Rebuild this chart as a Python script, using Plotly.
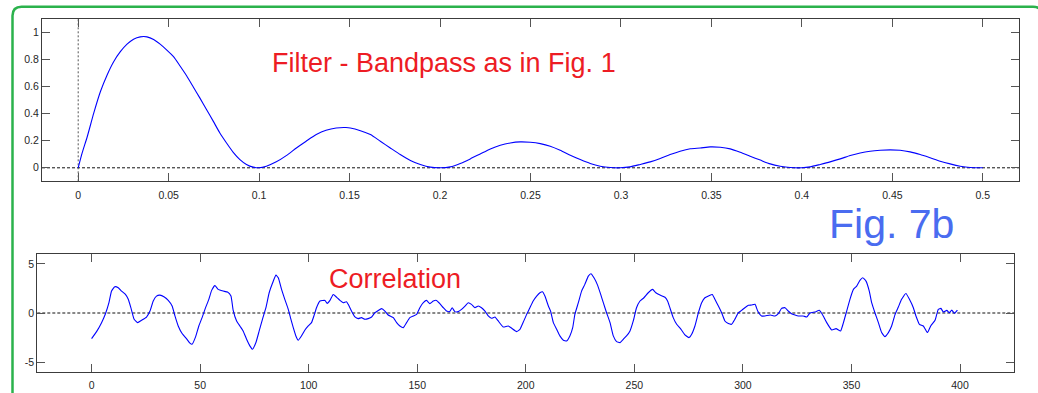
import plotly.graph_objects as go

W, H = 1038, 393


def px(x):
    return x / W


def py(y):
    return 1 - y / H


# ---------------- data ----------------
freq = [0, 0.0022, 0.005, 0.0086, 0.0123, 0.016, 0.0196, 0.0233, 0.027, 0.0306,
        0.0343, 0.038, 0.0417, 0.0453, 0.049, 0.0527, 0.0563, 0.06, 0.0637, 0.0673,
        0.071, 0.0747, 0.0783, 0.082, 0.0857, 0.0894, 0.093, 0.0967, 0.1, 0.104,
        0.1095, 0.115, 0.1206, 0.126, 0.1316, 0.137, 0.1426, 0.148, 0.1504, 0.156,
        0.1615, 0.167, 0.1725, 0.178, 0.1836, 0.1891, 0.1946, 0.2, 0.2057, 0.2112,
        0.2167, 0.2222, 0.2278, 0.2333, 0.2388, 0.2443, 0.2499, 0.2554, 0.2609, 0.2664,
        0.272, 0.2775, 0.283, 0.2885, 0.2941, 0.2996, 0.305, 0.3106, 0.3162, 0.3217,
        0.3272, 0.3327, 0.3383, 0.3438, 0.3493, 0.3549, 0.3604, 0.3659, 0.3714, 0.377,
        0.3825, 0.388, 0.3935, 0.4, 0.4046, 0.4101, 0.4156, 0.4212, 0.4267, 0.4322,
        0.4377, 0.4433, 0.4488, 0.4543, 0.4598, 0.4654, 0.4709, 0.4764, 0.4819, 0.4875,
        0.493, 0.5]
filt = [0, 0.11, 0.23, 0.405, 0.565, 0.688, 0.786, 0.86, 0.916, 0.953,
        0.97, 0.97, 0.951, 0.916, 0.872, 0.823, 0.754, 0.68, 0.597, 0.516,
        0.43, 0.344, 0.258, 0.184, 0.115, 0.061, 0.025, 0.005, 0, 0.012,
        0.044, 0.09, 0.147, 0.197, 0.246, 0.278, 0.295, 0.298, 0.295, 0.275,
        0.246, 0.197, 0.147, 0.098, 0.054, 0.025, 0.005, 0, 0.007, 0.032,
        0.066, 0.103, 0.14, 0.167, 0.184, 0.192, 0.189, 0.179, 0.16, 0.13,
        0.093, 0.061, 0.032, 0.012, 0.002, 0, 0.007, 0.025, 0.044, 0.069,
        0.098, 0.123, 0.141, 0.147, 0.155, 0.152, 0.14, 0.115, 0.086, 0.057,
        0.029, 0.012, 0.002, 0, 0.007, 0.025, 0.044, 0.066, 0.091, 0.11,
        0.123, 0.13, 0.133, 0.13, 0.118, 0.098, 0.074, 0.049, 0.029, 0.012,
        0.002, 0]

lags = [0, 2.3, 4.6, 6.4, 8, 9.2, 10.7, 12.3, 13.8, 15.6, 16.9, 18.1, 19.6, 21.2, 23,
        25.3, 26.9, 28.4, 29.9, 31.5, 33.5, 35.3, 37.1, 38.4, 39.9, 41.7, 43.7, 45.3,
        46.3, 47.9, 49.4, 50.9, 52.5, 54, 55.3, 56.8, 58.3, 60.6, 62.6, 64.2, 65.2,
        66.8, 68.3, 69.8, 71.4, 72.9, 74.1, 75.7, 77.2, 78.7, 80.3, 81.8, 83.4, 84.9,
        86, 87.5, 89, 90.6, 91.6, 92.9, 94.1, 95.2, 96.7, 98.2, 99.8, 101.3, 102.4,
        103.6, 105.2, 107.5, 108.5, 109.8, 111.3, 112.8, 114.4, 115.9, 117.4, 118.2,
        119.7, 121.3, 122.8, 124.3, 125.9, 127.4, 129, 130.5, 133.6, 135.1, 136.6,
        139, 140.5, 142, 143.6, 145.1, 146.6, 148.2, 149.7, 151.2, 152.8, 154.3,
        155.8, 157.4, 158.9, 160.4, 162, 163.5, 165, 166.1, 167.3, 168.9, 170.4, 172,
        173.5, 175, 176.6, 178.1, 179.6, 181.2, 182.7, 184.2, 185.8, 187.3, 189.6,
        191.9, 193.5, 195.8, 197.3, 198.8, 200.4, 201.9, 203.4, 205, 206.5, 207.7,
        208.8, 210.4, 211.4, 212.7, 214.2, 215.7, 217.3, 218.8, 220.3, 221.6, 222.6,
        224.2, 225.7, 227.2, 228.8, 230, 231.4, 232.9, 234.5, 235.7, 237.2, 238.8,
        240.3, 241.8, 243.4, 244.9, 246.4, 248, 249.5, 251, 252.6, 254.4, 256.4,
        258.4, 259.9, 261.8, 264.1, 265.3, 266.2, 267.9, 269.5, 271.5, 273.3, 275.2,
        276.4, 277.9, 279.5, 281, 282.5, 284.1, 285.9, 287.1, 288.7, 290.2, 291.7,
        293.3, 294.8, 296.3, 297.9, 299.4, 300.9, 302.5, 304, 305.6, 306.8, 308.6,
        310.2, 312.5, 314.8, 316.3, 317.8, 319.4, 320.9, 322.4, 324, 325.5, 327.8,
        329.4, 330.9, 333.2, 335.2, 337, 338.6, 340.9, 342.9, 345, 346.3, 347.8,
        349.3, 350.9, 352.4, 353.9, 355.2, 356.7, 358.2, 359.3, 360.8, 362.4, 363.9,
        365.4, 367, 368.5, 370.1, 371.6, 373.1, 375.1, 376.7, 378.5, 379.7, 381.3,
        383.1, 385, 386.5, 388.5, 390, 391.2, 392.3, 393.9, 395.1, 396.2, 397.4, 398.8]
corr = [-2.6, -1.89, -0.98, -0.07, 1.05, 2.23, 2.67, 2.57, 2.23, 1.89, 1.39, 0.54, -0.64,
        -0.98, -0.74, -0.41, 0.2, 1.22, 1.72, 1.82, 1.62, 1.28, 0.71, -0.3, -1.32, -2.09,
        -2.6, -3.07, -3.18, -2.43, -1.32, -0.47, 0.54, 1.39, 2.3, 2.8, 2.4, 2.23, 2.13,
        1.72, 0.3, -0.81, -1.32, -1.82, -2.67, -3.34, -3.68, -3.0, -1.82, -0.64, 0.54,
        2.06, 3.07, 3.85, 3.58, 2.4, 1.39, 0.37, -0.47, -1.49, -2.33, -2.77, -2.33,
        -1.76, -1.32, -0.98, -0.3, 0.54, 1.22, 1.28, 0.98, 1.28, 1.89, 1.62, 1.28, 1.05,
        1.15, 0.88, 0.2, -0.4, -0.57, -0.47, -0.64, -0.57, -0.41, 0.03, 0.44, 0.2, -0.2,
        -0.47, -0.98, -1.32, -1.49, -0.98, -0.47, -0.3, -0.14, 0.54, 1.05, 1.28, 0.95,
        1.22, 1.28, 0.95, 0.54, 0.2, 0.14, 0.54, 0.14, 0.14, 0.37, 0.71, 1.05, 0.88,
        0.54, 0.71, 0.54, 0.2, -0.3, -0.54, -0.41, -0.81, -1.42, -1.32, -1.55, -1.89,
        -1.66, -0.95, -0.14, 0.54, 1.22, 1.72, 2.06, 2.16, 1.72, 0.71, 0.2, -0.98,
        -1.66, -2.33, -2.77, -2.84, -2.33, -1.49, -0.14, 1.05, 2.23, 2.91, 3.75, 3.99,
        3.58, 2.91, 1.89, 1.05, 0.03, -0.98, -2.33, -2.91, -3.01, -2.67, -2.33, -1.82,
        -0.81, 0.54, 1.22, 1.55, 2.06, 2.4, 2.06, 1.82, 1.6, 1.22, 0.65, -0.47, -1.15,
        -1.66, -2.23, -2.5, -2.16, -1.32, 0.03, 1.05, 1.55, 1.72, 1.89, 1.39, 0.71,
        0.03, -0.81, -1.08, -1.15, -0.64, 0.03, 0.27, 0.54, 0.78, 0.81, 0.88, 0.2, -0.3,
        -0.3, -0.2, -0.3, -0.07, 0.47, 0.54, 0.2, -0.07, -0.2, -0.3, -0.3, -0.41, 0,
        0.1, 0.27, -0.3, -0.98, -1.72, -1.59, -1.82, -0.98, 0.2, 1.39, 2.4, 2.74, 3.31,
        3.58, 3.24, 2.23, 1.05, 0.03, -0.98, -1.99, -2.4, -1.99, -1.32, -0.14, 0.61,
        1.39, 1.99, 1.39, 0.54, -0.3, -1.15, -1.32, -1.99, -1.32, -0.74, 0.37, 0.47,
        0.1, 0.27, 0.03, 0.3, -0.03, 0.3]

top_xticks = [0, 0.05, 0.1, 0.15, 0.2, 0.25, 0.3, 0.35, 0.4, 0.45, 0.5]
top_xlabels = ["0", "0.05", "0.1", "0.15", "0.2", "0.25", "0.3", "0.35", "0.4", "0.45", "0.5"]
top_yticks = [0, 0.2, 0.4, 0.6, 0.8, 1]
top_ylabels = ["0", "0.2", "0.4", "0.6", "0.8", "1"]
bot_xticks = [0, 50, 100, 150, 200, 250, 300, 350, 400]
bot_xlabels = ["0", "50", "100", "150", "200", "250", "300", "350", "400"]
bot_yticks = [-5, 0, 5]
bot_ylabels = ["-5", "0", "5"]

title_top = "Filter - Bandpass as in Fig. 1"
title_bot = "Correlation"
fig_label = "Fig. 7b"

# ---------------- figure ----------------
fig = go.Figure()
fig.add_trace(go.Scatter(x=freq, y=filt, mode="lines", xaxis="x", yaxis="y",
                         line=dict(color="#0000ff", width=1.1, shape="spline", smoothing=0.6),
                         showlegend=False, hoverinfo="skip"))
fig.add_trace(go.Scatter(x=lags, y=corr, mode="lines", xaxis="x2", yaxis="y2",
                         line=dict(color="#0000ff", width=1.1, shape="spline", smoothing=0.4),
                         showlegend=False, hoverinfo="skip"))

tickfont = dict(family="Liberation Sans, Arial, sans-serif", size=10.5, color="#262626")
ax_common = dict(showline=True, linecolor="#3c3c3c", linewidth=1, mirror="ticks",
                 ticks="inside", ticklen=8, tickcolor="#555555", tickwidth=1,
                 showgrid=False, zeroline=False, tickfont=tickfont, automargin=False,
                 fixedrange=True)

fig.update_layout(
    width=W, height=H, autosize=False,
    margin=dict(l=0, r=0, t=0, b=0),
    paper_bgcolor="white", plot_bgcolor="white",
    xaxis=dict(domain=[px(42), px(1019)], range=[-0.02, 0.52], anchor="y",
               tickvals=top_xticks, ticktext=top_xlabels, ticklabelstandoff=4,
               **ax_common),
    yaxis=dict(domain=[py(181.3), py(19.3)], range=[-0.1, 1.1], anchor="x",
               tickvals=top_yticks, ticktext=top_ylabels, **ax_common),
    xaxis2=dict(domain=[px(37.3), px(1014.3)], range=[-25, 425], anchor="y2",
                tickvals=bot_xticks, ticktext=bot_xlabels, ticklabelstandoff=3,
                **ax_common),
    yaxis2=dict(domain=[py(372), py(254)], range=[-6, 6], anchor="x2",
                tickvals=bot_yticks, ticktext=bot_ylabels, **ax_common),
)

dash_line = dict(color="#111111", width=1, dash="3px,2px")
shapes = [
    dict(type="line", xref="x domain", yref="y", x0=0, x1=1, y0=0, y1=0,
         line=dash_line, layer="below"),
    dict(type="line", xref="x", yref="y domain", x0=0, x1=0, y0=0, y1=1,
         line=dict(color="#555555", width=1, dash="2px,2px"), layer="below"),
    dict(type="line", xref="x2 domain", yref="y2", x0=0, x1=1, y0=0, y1=0,
         line=dash_line, layer="below"),
]

# green rounded frame
r = 9
gx0, gy0, gx1, gy1 = 12.5, 6.7, 1042, 393
path = (f"M {px(gx0)},{py(gy1)} L {px(gx0)},{py(gy0 + r)} "
        f"Q {px(gx0)},{py(gy0)} {px(gx0 + r)},{py(gy0)} "
        f"L {px(gx1 - r)},{py(gy0)} Q {px(gx1)},{py(gy0)} {px(gx1)},{py(gy0 + r)} "
        f"L {px(gx1)},{py(gy1)}")
shapes.append(dict(type="path", xref="paper", yref="paper", path=path,
                   line=dict(color="#2bb24c", width=2.5), layer="above"))
fig.update_layout(shapes=shapes)

red = "#ed1c24"
big = "Liberation Sans, Arial, sans-serif"
fig.add_annotation(text=title_top, xref="paper", yref="paper", x=px(270), y=py(63),
                   xanchor="left", yanchor="middle", showarrow=False,
                   font=dict(family=big, size=27, color=red))
fig.add_annotation(text=title_bot, xref="paper", yref="paper", x=px(327), y=py(279),
                   xanchor="left", yanchor="middle", showarrow=False,
                   font=dict(family=big, size=27, color=red))
fig.add_annotation(text=fig_label, xref="paper", yref="paper", x=px(827), y=py(224),
                   xanchor="left", yanchor="middle", showarrow=False,
                   font=dict(family=big, size=41, color="#4a6cf0"))

fig.write_html("out.html")
